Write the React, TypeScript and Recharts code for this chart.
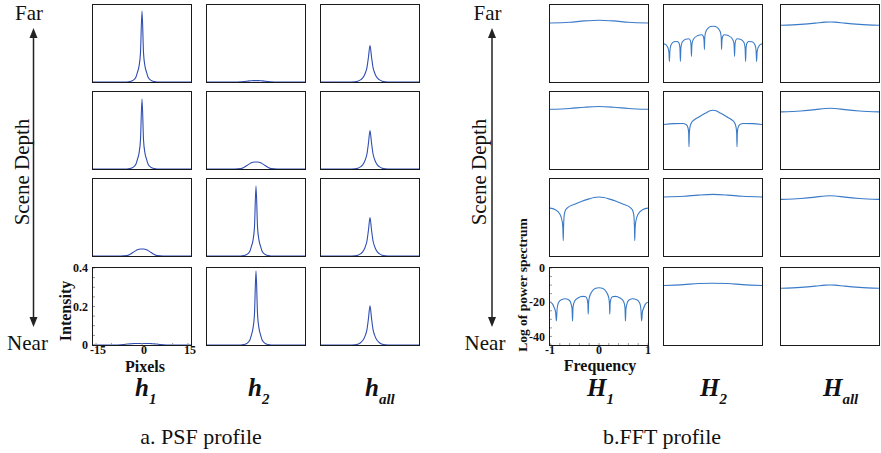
import React from 'react'
import { LineChart, Line, XAxis, YAxis } from 'recharts'

// PSF profiles (intensity vs pixels), sampled on PSF_X
const PSF_X = [-16, -15, -12, -9, -7, -5, -4, -3, -2, -1.5, -1, -0.5, 0, 0.5, 1, 1.5, 2, 3, 4, 5, 7, 9, 12, 15, 16]

const h1Far = [0, 0, 0, 0, 0, 0, 0.002, 0.008, 0.025, 0.05, 0.08, 0.15, 0.368, 0.15, 0.08, 0.05, 0.025, 0.008, 0.002, 0, 0, 0, 0, 0, 0]
const h1Mid1 = [0, 0, 0, 0, 0, 0, 0.002, 0.008, 0.025, 0.05, 0.08, 0.15, 0.364, 0.15, 0.08, 0.05, 0.025, 0.008, 0.002, 0, 0, 0, 0, 0, 0]
const h1Mid2 = [0, 0, 0, 0, 0, 0.002, 0.008, 0.018, 0.028, 0.032, 0.035, 0.036, 0.036, 0.036, 0.035, 0.032, 0.028, 0.018, 0.008, 0.002, 0, 0, 0, 0, 0]
const h1Near = [0, 0, 0, 0, 0.001, 0.004, 0.006, 0.007, 0.008, 0.008, 0.008, 0.008, 0.008, 0.008, 0.008, 0.008, 0.008, 0.007, 0.006, 0.004, 0.001, 0, 0, 0, 0]

const h2Far = [0, 0, 0, 0, 0, 0.001, 0.002, 0.004, 0.006, 0.0065, 0.007, 0.007, 0.007, 0.007, 0.007, 0.0065, 0.006, 0.004, 0.002, 0.001, 0, 0, 0, 0, 0]
const h2Mid1 = [0, 0, 0, 0, 0, 0.002, 0.008, 0.018, 0.028, 0.032, 0.035, 0.036, 0.036, 0.036, 0.035, 0.032, 0.028, 0.018, 0.008, 0.002, 0, 0, 0, 0, 0]
const h2Mid2 = [0, 0, 0, 0, 0, 0, 0.002, 0.008, 0.025, 0.05, 0.08, 0.15, 0.364, 0.15, 0.08, 0.05, 0.025, 0.008, 0.002, 0, 0, 0, 0, 0, 0]
const h2Near = [0, 0, 0, 0, 0, 0, 0.002, 0.008, 0.026, 0.052, 0.085, 0.16, 0.384, 0.16, 0.085, 0.052, 0.026, 0.008, 0.002, 0, 0, 0, 0, 0, 0]

const hallFar = [0, 0, 0, 0, 0, 0.001, 0.004, 0.012, 0.03, 0.048, 0.075, 0.13, 0.19, 0.13, 0.075, 0.048, 0.03, 0.012, 0.004, 0.001, 0, 0, 0, 0, 0]
const hallMid1 = [0, 0, 0, 0, 0, 0.001, 0.004, 0.012, 0.031, 0.05, 0.078, 0.135, 0.2, 0.135, 0.078, 0.05, 0.031, 0.012, 0.004, 0.001, 0, 0, 0, 0, 0]
const hallMid2 = [0, 0, 0, 0, 0, 0.001, 0.004, 0.012, 0.031, 0.05, 0.078, 0.135, 0.2, 0.135, 0.078, 0.05, 0.031, 0.012, 0.004, 0.001, 0, 0, 0, 0, 0]
const hallNear = [0, 0, 0, 0, 0, 0.001, 0.004, 0.013, 0.032, 0.051, 0.08, 0.138, 0.204, 0.138, 0.08, 0.051, 0.032, 0.013, 0.004, 0.001, 0, 0, 0, 0, 0]

// FFT profiles (log power spectrum vs frequency), [frequency, dB]
const H1Far: [number, number][] = [[-1, -10.5], [-0.6, -10.1], [-0.3, -9.3], [0, -8.9], [0.3, -9.3], [0.6, -10.1], [1, -10.5]]
const H1Mid1: [number, number][] = [[-1, -10.1], [-0.6, -9.6], [-0.3, -8.9], [0, -8.5], [0.3, -8.9], [0.6, -9.6], [1, -10.1]]
const H1Mid2: [number, number][] = [
  [-1, -17], [-0.9, -17.8], [-0.8, -20.5], [-0.75, -25], [-0.737, -29], [-0.73, -36],
  [-0.723, -28], [-0.71, -21], [-0.68, -18], [-0.62, -16.3], [-0.5, -14.8], [-0.35, -13], [-0.2, -11.6], [-0.1, -10.8], [0, -10.5],
  [0.1, -10.8], [0.2, -11.6], [0.35, -13], [0.5, -14.8], [0.62, -16.3], [0.68, -18], [0.71, -21], [0.723, -28],
  [0.73, -36], [0.737, -29], [0.75, -25], [0.8, -20.5], [0.9, -17.8], [1, -17],
]
const H1Near: [number, number][] = [
  [-1, -20], [-0.95, -21], [-0.91, -23.5], [-0.885, -26], [-0.87, -31],
  [-0.855, -24], [-0.83, -20.5], [-0.77, -18.5], [-0.68, -18], [-0.6, -19], [-0.565, -21.5], [-0.55, -24], [-0.54, -31],
  [-0.53, -23], [-0.5, -19.5], [-0.43, -17.5], [-0.33, -16.6], [-0.27, -16.8], [-0.24, -18.5], [-0.227, -21], [-0.22, -27],
  [-0.213, -21], [-0.2, -17.5], [-0.15, -14], [-0.08, -12], [0, -11.5],
  [0.08, -12], [0.15, -14], [0.2, -17.5], [0.213, -21],
  [0.22, -27], [0.227, -21], [0.24, -18.5], [0.27, -16.8], [0.33, -16.6], [0.43, -17.5], [0.5, -19.5], [0.53, -23],
  [0.54, -31], [0.55, -24], [0.565, -21.5], [0.6, -19], [0.68, -18], [0.77, -18.5], [0.83, -20.5], [0.855, -24],
  [0.87, -31], [0.885, -26], [0.91, -23.5], [0.95, -21], [1, -20],
]

const H2Far: [number, number][] = [
  [-1, -22.7], [-0.96, -23.2], [-0.92, -25], [-0.9, -27.5], [-0.89, -33],
  [-0.88, -27], [-0.86, -23.5], [-0.8, -21.5], [-0.73, -21.3], [-0.69, -22.5], [-0.675, -25], [-0.665, -33],
  [-0.655, -25], [-0.63, -21.8], [-0.56, -20], [-0.49, -19.7], [-0.46, -21], [-0.448, -23.5], [-0.44, -30],
  [-0.43, -23], [-0.4, -20], [-0.32, -18], [-0.23, -17.4], [-0.195, -18.5], [-0.182, -21], [-0.175, -26],
  [-0.168, -19], [-0.15, -15.8], [-0.1, -13.5], [-0.05, -12.6], [0, -12.4],
  [0.05, -12.6], [0.1, -13.5], [0.15, -15.8], [0.168, -19],
  [0.175, -26], [0.182, -21], [0.195, -18.5], [0.23, -17.4], [0.32, -18], [0.4, -20], [0.43, -23],
  [0.44, -30], [0.448, -23.5], [0.46, -21], [0.49, -19.7], [0.56, -20], [0.63, -21.8], [0.655, -25],
  [0.665, -33], [0.675, -25], [0.69, -22.5], [0.73, -21.3], [0.8, -21.5], [0.86, -23.5], [0.88, -27],
  [0.89, -33], [0.9, -27.5], [0.92, -25], [0.96, -23.2], [1, -22.7],
]
const H2Mid1: [number, number][] = [
  [-1, -19], [-0.8, -18.5], [-0.62, -18.4], [-0.55, -19], [-0.51, -21], [-0.497, -24], [-0.49, -32],
  [-0.483, -24], [-0.47, -20.5], [-0.44, -18], [-0.38, -16.2], [-0.28, -14.5], [-0.15, -12.3], [-0.06, -11], [0, -10.7],
  [0.06, -11], [0.15, -12.3], [0.28, -14.5], [0.38, -16.2], [0.44, -18], [0.47, -20.5], [0.483, -24],
  [0.49, -32], [0.497, -24], [0.51, -21], [0.55, -19], [0.62, -18.4], [0.8, -18.5], [1, -19],
]
const H2Mid2: [number, number][] = [[-1, -10.5], [-0.6, -10.1], [-0.3, -9.4], [0, -9], [0.3, -9.4], [0.6, -10.1], [1, -10.5]]
const H2Near: [number, number][] = [[-1, -10.2], [-0.6, -9.7], [-0.3, -9.1], [0, -8.9], [0.3, -9.1], [0.6, -9.7], [1, -10.2]]

const HallFar: [number, number][] = [[-1, -11.8], [-0.6, -11.3], [-0.3, -10.6], [-0.1, -10], [0, -9.9], [0.1, -10], [0.3, -10.6], [0.6, -11.3], [1, -11.8]]
const HallMid1: [number, number][] = [[-1, -11.6], [-0.6, -11.1], [-0.3, -10.3], [-0.1, -9.6], [0, -9.5], [0.1, -9.6], [0.3, -10.3], [0.6, -11.1], [1, -11.6]]
const HallMid2: [number, number][] = [[-1, -11.9], [-0.6, -11.4], [-0.3, -10.6], [-0.1, -9.9], [0, -9.8], [0.1, -9.9], [0.3, -10.6], [0.6, -11.4], [1, -11.9]]
const HallNear: [number, number][] = [[-1, -11.8], [-0.6, -11.3], [-0.3, -10.6], [-0.1, -10], [0, -9.9], [0.1, -10], [0.3, -10.6], [0.6, -11.3], [1, -11.8]]

const PSF_XTICKS = [-15, -10, -5, 0, 5, 10, 15]
const PSF_YTICKS = [0, 0.05, 0.1, 0.15, 0.2, 0.25, 0.3, 0.35, 0.4]
const FFT_XTICKS = [-1, -0.8, -0.6, -0.4, -0.2, 0, 0.2, 0.4, 0.6, 0.8, 1]
const FFT_YTICKS = [-45, -40, -35, -30, -25, -20, -15, -10, -5, 0]
const PSF_XLABELS = [-15, 0, 15]
const PSF_YLABELS = [0, 0.2, 0.4]
const FFT_XLABELS = [-1, 0, 1]
const FFT_YLABELS = [0, -20, -40]

const LEFT_COLS = [93, 207, 321]
const RIGHT_COLS = [550, 664, 781]
const ROWS = [5, 92, 179, 268]
const BOX_W = 98
const BOX_H = 77

const SERIF = 'Liberation Serif, Tinos, DejaVu Serif, serif'
const PSF_COLOR = '#2f4db3'
const FFT_COLOR = '#3a7bc8'

type Pt = { x: number; y: number }

const fromPsf = (vals: number[]): Pt[] => PSF_X.map((x, i) => ({ x, y: vals[i] }))
const fromPairs = (pairs: [number, number][]): Pt[] => pairs.map(([x, y]) => ({ x, y }))

const psfGrid: number[][][] = [
  [h1Far, h2Far, hallFar],
  [h1Mid1, h2Mid1, hallMid1],
  [h1Mid2, h2Mid2, hallMid2],
  [h1Near, h2Near, hallNear],
]
const fftGrid: [number, number][][][] = [
  [H1Far, H2Far, HallFar],
  [H1Mid1, H2Mid1, HallMid1],
  [H1Mid2, H2Mid2, HallMid2],
  [H1Near, H2Near, HallNear],
]

interface PanelProps {
  data: Pt[]
  boxX: number
  boxY: number
  fft: boolean
  labeled: boolean
}

const near = (v: number, list: number[]) => list.some((t) => Math.abs(t - v) < 1e-6)

function Panel({ data, boxX, boxY, fft, labeled }: PanelProps) {
  const yw = labeled ? 30 : 0
  const xh = labeled ? 18 : 0
  const extraR = labeled ? 10 : 0
  const extraT = labeled ? 8 : 0
  const xDom = fft ? [-1, 1] : [-16, 16]
  const yDom = fft ? [-45, 0] : [0, 0.4]
  const xTicks = fft ? FFT_XTICKS : PSF_XTICKS
  const yTicks = fft ? FFT_YTICKS : PSF_YTICKS
  const xLab = fft ? FFT_XLABELS : PSF_XLABELS
  const yLab = fft ? FFT_YLABELS : PSF_YLABELS
  const tickLine = { stroke: '#9a9a9a', strokeWidth: 1 }
  const tickStyle = { fontFamily: SERIF, fontWeight: 'bold', fontSize: 12, fill: '#111' }

  return (
    <>
      <div style={{ position: 'absolute', left: boxX - yw - 2, top: boxY - 2 - extraT }}>
        <LineChart
          width={BOX_W + yw + 4 + extraR}
          height={BOX_H + xh + 4 + extraT}
          data={data}
          margin={{ top: 2 + extraT, right: 2 + extraR, bottom: 2, left: 2 }}
        >
          <XAxis
            xAxisId="b"
            type="number"
            dataKey="x"
            domain={xDom}
            ticks={xTicks}
            interval={0}
            allowDataOverflow
            height={xh}
            tickSize={-2}
            tickMargin={2}
            axisLine={false}
            tickLine={tickLine}
            tick={labeled ? { ...tickStyle, dx: fft ? 0 : 2 } : false}
            tickFormatter={(v: number) => (near(v, xLab) ? String(v) : '')}
          />
          <XAxis
            xAxisId="t"
            orientation="top"
            type="number"
            dataKey="x"
            domain={xDom}
            ticks={xTicks}
            interval={0}
            allowDataOverflow
            height={0}
            tickSize={-2}
            axisLine={false}
            tickLine={tickLine}
            tick={false}
          />
          <YAxis
            yAxisId="l"
            type="number"
            domain={yDom}
            ticks={yTicks}
            interval={0}
            allowDataOverflow
            width={yw}
            tickSize={-2}
            tickMargin={7}
            axisLine={false}
            tickLine={tickLine}
            tick={labeled ? tickStyle : false}
            tickFormatter={(v: number) => (near(v, yLab) ? String(v) : '')}
          />
          <YAxis
            yAxisId="r"
            orientation="right"
            type="number"
            domain={yDom}
            ticks={yTicks}
            interval={0}
            allowDataOverflow
            width={0}
            tickSize={-2}
            axisLine={false}
            tickLine={tickLine}
            tick={false}
          />
          <Line
            xAxisId="b"
            yAxisId="l"
            dataKey="y"
            type="monotone"
            dot={false}
            stroke={fft ? FFT_COLOR : PSF_COLOR}
            strokeWidth={1.1}
            isAnimationActive={false}
          />
        </LineChart>
      </div>
      <div
        style={{
          position: 'absolute',
          left: boxX - 1,
          top: boxY - 1,
          width: BOX_W + 2,
          height: BOX_H + 2,
          border: '1.5px solid #1a1a1a',
          boxSizing: 'border-box',
          pointerEvents: 'none',
        }}
      />
    </>
  )
}

function Arrow({ x }: { x: number }) {
  return (
    <g fill="#222" stroke="#222">
      <line x1={x} y1={34} x2={x} y2={321} strokeWidth={1.5} />
      <polygon points={`${x},28 ${x - 4},38 ${x + 4},38`} stroke="none" />
      <polygon points={`${x},327 ${x - 4},317 ${x + 4},317`} stroke="none" />
    </g>
  )
}

function ColLabel({ x, main, sub }: { x: number; main: string; sub: string }) {
  return (
    <text x={x} y={396} style={{ fontFamily: SERIF, fontStyle: 'italic', fontWeight: 'bold', fontSize: 25 }} fill="#111">
      {main}
      <tspan dy={8} style={{ fontSize: 15 }}>{sub}</tspan>
    </text>
  )
}

const T = (size: number, bold = false): React.CSSProperties => ({
  fontFamily: SERIF,
  fontSize: size,
  fontWeight: bold ? 'bold' : 'normal',
})

export default function App() {
  return (
    <div style={{ position: 'absolute', left: 0, top: 0, width: 881, height: 453, background: '#fff', overflow: 'hidden' }}>
      <svg width={881} height={453} style={{ position: 'absolute', left: 0, top: 0 }}>
        <g fill="#111">
          <text x={29} y={20} style={T(21)} textAnchor="middle">Far</text>
          <text x={27.5} y={350} style={T(21)} textAnchor="middle">Near</text>
          <text transform="translate(29,172) rotate(-90)" style={T(21)} textAnchor="middle">Scene Depth</text>
          <text x={487.5} y={20} style={T(21)} textAnchor="middle">Far</text>
          <text x={485} y={350} style={T(21)} textAnchor="middle">Near</text>
          <text transform="translate(486,172) rotate(-90)" style={T(21)} textAnchor="middle">Scene Depth</text>

          <text transform="translate(71,311) rotate(-90)" style={T(16, true)} textAnchor="middle">Intensity</text>
          <text x={145} y={372} style={T(16, true)} textAnchor="middle">Pixels</text>
          <text transform="translate(527,285) rotate(-90)" style={T(13.5, true)} textAnchor="middle">Log of power spectrum</text>
          <text x={600} y={371} style={T(16, true)} textAnchor="middle">Frequency</text>

          <text x={201} y={444} style={T(22)} textAnchor="middle">a. PSF profile</text>
          <text x={662} y={444} style={T(22)} textAnchor="middle">b.FFT profile</text>
        </g>
        <Arrow x={33.5} />
        <Arrow x={492} />
        <ColLabel x={135} main="h" sub="1" />
        <ColLabel x={248} main="h" sub="2" />
        <ColLabel x={365} main="h" sub="all" />
        <ColLabel x={587} main="H" sub="1" />
        <ColLabel x={700} main="H" sub="2" />
        <ColLabel x={823} main="H" sub="all" />
      </svg>

      {psfGrid.map((row, r) =>
        row.map((vals, c) => (
          <Panel
            key={`p${r}${c}`}
            data={fromPsf(vals)}
            boxX={LEFT_COLS[c]}
            boxY={ROWS[r]}
            fft={false}
            labeled={r === 3 && c === 0}
          />
        ))
      )}
      {fftGrid.map((row, r) =>
        row.map((pairs, c) => (
          <Panel
            key={`f${r}${c}`}
            data={fromPairs(pairs)}
            boxX={RIGHT_COLS[c]}
            boxY={ROWS[r]}
            fft={true}
            labeled={r === 3 && c === 0}
          />
        ))
      )}
    </div>
  )
}
